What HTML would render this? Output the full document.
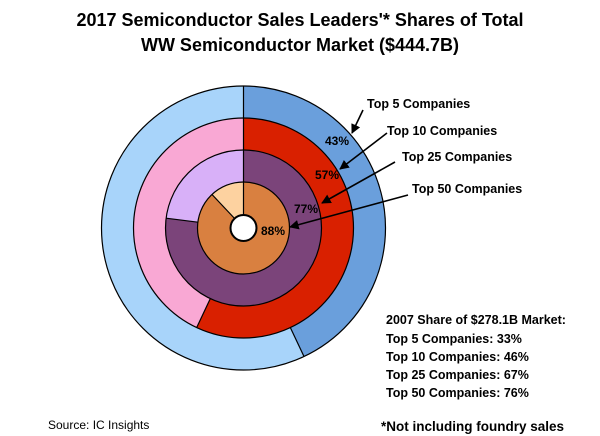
<!DOCTYPE html>
<html><head><style>
body{margin:0;background:#fff;}
svg{display:block;font-family:"Liberation Sans",sans-serif;}
</style></head><body>
<svg width="600" height="436" viewBox="0 0 600 436">
<defs><marker id="ah" viewBox="0 0 10 10" refX="9" refY="5" markerWidth="6" markerHeight="6" orient="auto"><path d="M0,0 L10,5 L0,10 z" fill="#000"/></marker></defs>
<text x="300" y="26" text-anchor="middle" font-size="18" font-weight="bold">2017 Semiconductor Sales Leaders'* Shares of Total</text>
<text x="300" y="51" text-anchor="middle" font-size="18" font-weight="bold">WW Semiconductor Market ($444.7B)</text>
<g transform="translate(243.5,228)">
<circle r="126" fill="none" stroke="#a8d4fa" stroke-width="32"/>
<circle r="126" fill="none" stroke="#6a9fdc" stroke-width="32" stroke-dasharray="340.4 1000" transform="rotate(-90)"/>
<circle r="94" fill="none" stroke="#f9a8d4" stroke-width="32"/>
<circle r="94" fill="none" stroke="#d92000" stroke-width="32" stroke-dasharray="336.65 1000" transform="rotate(-90)"/>
<circle r="62" fill="none" stroke="#d8b0f8" stroke-width="32"/>
<circle r="62" fill="none" stroke="#7b447a" stroke-width="32" stroke-dasharray="299.96 1000" transform="rotate(-90)"/>
<circle r="29.5" fill="none" stroke="#fdd2a0" stroke-width="33"/>
<circle r="29.5" fill="none" stroke="#d98040" stroke-width="33" stroke-dasharray="163.11 1000" transform="rotate(-90)"/>
<g fill="none" stroke="#000" stroke-width="1.2">
<circle r="142"/><circle r="110"/><circle r="78"/><circle r="46"/><circle r="13" fill="#fff" stroke-width="2"/>
</g>
</g>
<g stroke="#000" stroke-width="1.2">
<line x1="243.5" y1="86" x2="243.5" y2="215"/>
<line x1="290.3" y1="327.5" x2="304" y2="356.5"/>
<line x1="210.3" y1="298.6" x2="196.7" y2="327.5"/>
<line x1="197.9" y1="222.2" x2="166.1" y2="218.2"/>
<line x1="234.6" y1="218.5" x2="212" y2="194.5"/>
</g>
<g font-size="12" font-weight="bold" text-anchor="middle">
<text x="337" y="145">43%</text>
<text x="327" y="179">57%</text>
<text x="306" y="213">77%</text>
<text x="273" y="235">88%</text>
</g>
<g stroke="#000" stroke-width="1.6" marker-end="url(#ah)">
<line x1="363" y1="110" x2="352" y2="133"/>
<line x1="387" y1="133" x2="340" y2="169"/>
<line x1="395" y1="162" x2="322" y2="203"/>
<line x1="408" y1="195" x2="290" y2="227"/>
</g>
<g font-size="12.5" font-weight="bold">
<text x="367" y="108">Top 5 Companies</text>
<text x="387" y="135">Top 10 Companies</text>
<text x="402" y="161">Top 25 Companies</text>
<text x="412" y="193">Top 50 Companies</text>
</g>
<g font-size="12.5" font-weight="bold">
<text x="386" y="324">2007 Share of $278.1B Market:</text>
<text x="386" y="343">Top 5 Companies: 33%</text>
<text x="386" y="361">Top 10 Companies: 46%</text>
<text x="386" y="379">Top 25 Companies: 67%</text>
<text x="386" y="397">Top 50 Companies: 76%</text>
<text x="381" y="431" font-size="13.5">*Not including foundry sales</text>
</g>
<text x="48" y="429" font-size="12">Source: IC Insights</text>
</svg>
</body></html>
